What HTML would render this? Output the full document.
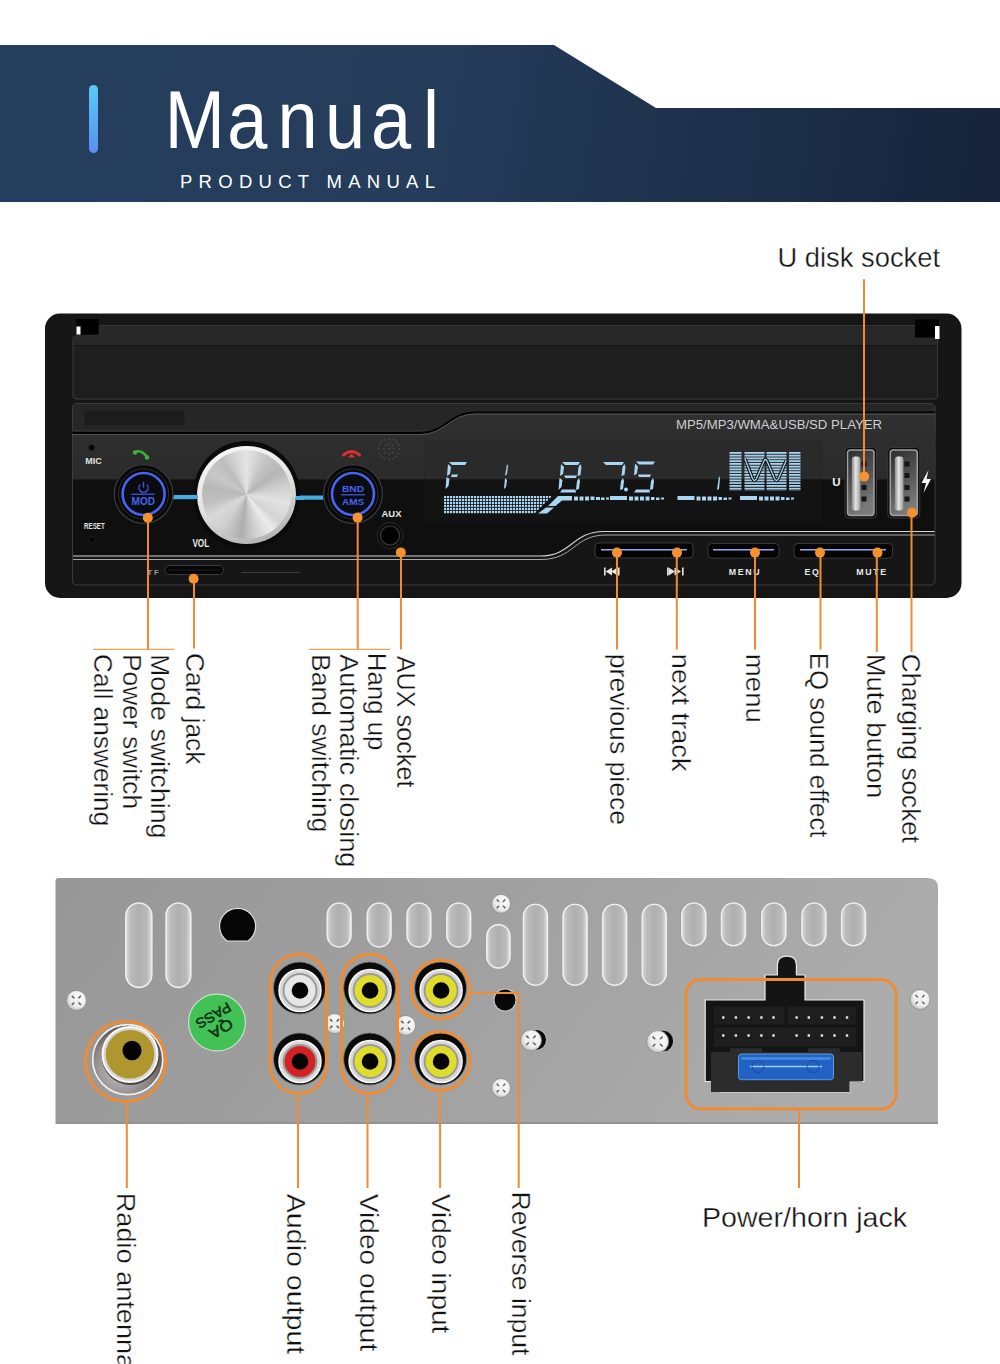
<!DOCTYPE html>
<html><head><meta charset="utf-8">
<style>
html,body{margin:0;padding:0;background:#fff;width:1000px;height:1364px;overflow:hidden;position:relative}
svg{display:block}
text{font-family:"Liberation Sans",sans-serif}
</style></head>
<body>
<svg width="1000" height="1364" viewBox="0 0 1000 1364">
<defs>
  <linearGradient id="hdr" gradientUnits="userSpaceOnUse" x1="0" y1="45" x2="1000" y2="202">
    <stop offset="0" stop-color="#263e5d"/>
    <stop offset="0.42" stop-color="#253c5b"/>
    <stop offset="0.7" stop-color="#1e314c"/>
    <stop offset="1" stop-color="#16233a"/>
  </linearGradient>
  <linearGradient id="bar" x1="0" y1="0" x2="0" y2="1">
    <stop offset="0" stop-color="#5ccaf9"/>
    <stop offset="1" stop-color="#5a8ef0"/>
  </linearGradient>
</defs>
<rect width="1000" height="1364" fill="#fff"/>

<!-- HEADER -->
<polygon points="0,45 554,45 656,108 1000,108 1000,202 0,202" fill="url(#hdr)"/>
<rect x="89" y="85" width="9" height="68" rx="4.5" fill="url(#bar)"/>

<g transform="translate(0,148.3) scale(0.88,1)" font-size="82" fill="#fff" stroke="none">
<text x="187.1" y="0">M</text><text x="258.3" y="0">a</text><text x="315.2" y="0">n</text><text x="369.2" y="0">u</text><text x="421.6" y="0">a</text><text x="480.6" y="0">l</text>
</g>
<text x="180" y="187.5" font-size="18.5" fill="#fff" textLength="255" lengthAdjust="spacing">PRODUCT MANUAL</text>

<!-- FRONT PANEL -->
<g id="front">
<rect x="45" y="313.5" width="916.5" height="284.5" rx="15" fill="#161616"/>
<!-- top flap -->
<path d="M73,345 L73,338 Q73,336 76,336 L92,336 Q95,336 96,332 L97,328 Q98,325.5 102,325.5 L934,325.5 Q937.5,325.5 937.5,329 L937.5,396 Q937.5,399 934,399 L76,399 Q73,399 73,396 Z" fill="#1e1e1e" stroke="#3a3a3a" stroke-width="1"/>
<path d="M74,338 Q74,337 76,337 L92,337 Q95,337 96,333 L97,329 Q98,326.5 102,326.5 L934,326.5 Q936.5,326.5 936.5,329 L936.5,345 L74,345 Z" fill="#282828"/>
<line x1="74" y1="345.5" x2="936.5" y2="345.5" stroke="#161616" stroke-width="1"/>
<rect x="76.5" y="319" width="22" height="15.5" fill="#000"/>
<rect x="76.5" y="326.5" width="4" height="8" fill="#fff"/>
<rect x="915" y="319.5" width="24" height="18" fill="#000"/>
<rect x="935" y="326" width="4.5" height="13" fill="#fff"/>
<!-- middle strip -->
<path d="M72.5,431 L72.5,408 Q72.5,403.5 77,403.5 L930,403.5 Q935,403.5 935,408 L935,431 Z" fill="#262626" stroke="#3c3c3c" stroke-width="1"/>
<rect x="84" y="410" width="101" height="16" rx="1.5" fill="#1c1c1c" stroke="#2c2c2c" stroke-width="0.8"/>
<!-- lower panel -->
<linearGradient id="pnlUp" x1="0" y1="0" x2="0" y2="1">
  <stop offset="0" stop-color="#303030"/><stop offset="1" stop-color="#232323"/>
</linearGradient>
<path d="M72.5,584 L72.5,433 L420,433 C445,433 450,412.5 475,412.5 L935,412.5 L935,584 Z" fill="url(#pnlUp)"/>
<rect x="72.5" y="479.5" width="862.5" height="104.5" fill="#0f0f0f"/>
<path d="M72.5,433 L420,433 C445,433 450,412.5 475,412.5 L935,412.5" fill="none" stroke="#000" stroke-width="2"/>
<path d="M72.5,434.5 L420,434.5 C445,434.5 450,414 475,414 L935,414" fill="none" stroke="#5a5a5a" stroke-width="0.9"/>
<text x="676" y="429" font-size="12.5" fill="#d0d0d0" textLength="206" lengthAdjust="spacingAndGlyphs">MP5/MP3/WMA&amp;USB/SD PLAYER</text>
<!-- display -->
<rect x="424.5" y="440.5" width="397" height="82.5" rx="3" fill="#1a1a1a"/>
<rect x="424.5" y="440.5" width="397" height="39" rx="3" fill="#2a2a2a"/>
<rect x="424.5" y="479.5" width="397" height="43.5" fill="#131313"/>
<!-- bottom strip -->
<path d="M72.5,584 L72.5,556 L540,556 C572,556 572,531.5 604,531.5 L935,531.5 L935,584 Q935,588 930,588 L77,588 Q72.5,588 72.5,584 Z" fill="#161616"/>
<path d="M72.5,556 L540,556 C572,556 572,531.5 604,531.5 L935,531.5" fill="none" stroke="#d4d4d4" stroke-width="1.1"/>
<path d="M72.5,559.5 L541,559.5 C574,559.5 574,535 606,535 L935,535" fill="none" stroke="#a8a8a8" stroke-width="1"/>
<path d="M72.5,433 L72.5,581 Q72.5,585 77,585 L930,585 Q935,585 935,581 L935,412.5" fill="none" stroke="#3c3c3c" stroke-width="1"/>
</g>

<!-- front components -->
<g id="frontcomp">
<!-- MIC / RESET -->
<circle cx="91.6" cy="447.5" r="3.2" fill="#060606" stroke="#333" stroke-width="0.6"/>
<text x="93.5" y="463.5" font-size="9" font-weight="bold" fill="#e2e2e2" text-anchor="middle">MIC</text>
<text x="94.4" y="528.8" font-size="8.5" font-weight="bold" fill="#e2e2e2" text-anchor="middle" textLength="20.8" lengthAdjust="spacingAndGlyphs">RESET</text>
<circle cx="92" cy="539.5" r="3.2" fill="#050505" stroke="#2a2a2a" stroke-width="0.6"/>
<text x="200.8" y="547.2" font-size="11.5" font-weight="bold" fill="#ececec" text-anchor="middle" textLength="16.8" lengthAdjust="spacingAndGlyphs">VOL</text>
<!-- blue light lines -->
<rect x="170" y="495" width="30" height="4.2" fill="#45aee0"/>
<rect x="294" y="495.5" width="31" height="4.2" fill="#45aee0"/>
<!-- MOD button -->
<circle cx="143.6" cy="494" r="30" fill="#0a0a0a"/>
<circle cx="143.6" cy="494" r="29.3" fill="none" stroke="#3c3c3c" stroke-width="1.2"/>
<circle cx="143.6" cy="494" r="25" fill="#050505" stroke="#2e2e2e" stroke-width="1"/>
<circle cx="143.6" cy="494" r="21" fill="#0b0b12" stroke="#4466f0" stroke-width="2.6"/>
<path d="M140.2,484.6 A4.6,4.6 0 1 0 146.8,484.6" fill="none" stroke="#3d5fe8" stroke-width="1.3"/>
<line x1="143.5" y1="481.8" x2="143.5" y2="487.5" stroke="#3d5fe8" stroke-width="1.3"/>
<line x1="131.3" y1="494.2" x2="154.8" y2="494.2" stroke="#3d5fe8" stroke-width="1.2"/>
<text x="143.3" y="504.6" font-size="10" font-weight="bold" fill="#4266f0" text-anchor="middle" textLength="23.5" lengthAdjust="spacingAndGlyphs">MOD</text>
<!-- green phone -->
<path d="M134.5,452.5 Q141,448.5 147.5,457.5" fill="none" stroke="#3cb43c" stroke-width="2.6" stroke-linecap="round"/>
<circle cx="135" cy="452.5" r="2.2" fill="#3cb43c"/><circle cx="147" cy="457.5" r="2.2" fill="#3cb43c"/>
<!-- BND button -->
<circle cx="353" cy="494" r="30" fill="#0a0a0a"/>
<circle cx="353" cy="494" r="29.3" fill="none" stroke="#3c3c3c" stroke-width="1.2"/>
<circle cx="353" cy="494" r="25" fill="#050505" stroke="#2e2e2e" stroke-width="1"/>
<circle cx="353" cy="494" r="21" fill="#0b0b12" stroke="#4466f0" stroke-width="2.6"/>
<text x="353" y="492" font-size="9.5" font-weight="bold" fill="#4266f0" text-anchor="middle" textLength="22" lengthAdjust="spacingAndGlyphs">BND</text>
<line x1="341" y1="494.8" x2="365" y2="494.8" stroke="#3d5fe8" stroke-width="1.2"/>
<text x="353" y="505" font-size="9.5" font-weight="bold" fill="#4266f0" text-anchor="middle" textLength="22" lengthAdjust="spacingAndGlyphs">AMS</text>
<!-- red phone -->
<path d="M343.5,455 Q351.5,448 359.5,455" fill="none" stroke="#d93030" stroke-width="3" stroke-linecap="round"/>
<path d="M348,457.5 L351.5,453.5 L355,457.5 Z" fill="#d93030"/>
<!-- speaker grid -->
<g fill="#4a4a4a">
<circle cx="389" cy="449" r="0.9"/>
<circle cx="389" cy="444" r="0.9"/><circle cx="389" cy="454" r="0.9"/><circle cx="384" cy="449" r="0.9"/><circle cx="394" cy="449" r="0.9"/>
<circle cx="385.5" cy="445.5" r="0.9"/><circle cx="392.5" cy="445.5" r="0.9"/><circle cx="385.5" cy="452.5" r="0.9"/><circle cx="392.5" cy="452.5" r="0.9"/>
<circle cx="389" cy="438.5" r="0.9"/><circle cx="389" cy="459.5" r="0.9"/><circle cx="378.5" cy="449" r="0.9"/><circle cx="399.5" cy="449" r="0.9"/>
<circle cx="381.5" cy="441.5" r="0.9"/><circle cx="396.5" cy="441.5" r="0.9"/><circle cx="381.5" cy="456.5" r="0.9"/><circle cx="396.5" cy="456.5" r="0.9"/>
<circle cx="384.5" cy="439.5" r="0.9"/><circle cx="393.5" cy="439.5" r="0.9"/><circle cx="384.5" cy="458.5" r="0.9"/><circle cx="393.5" cy="458.5" r="0.9"/>
<circle cx="379.5" cy="444.5" r="0.9"/><circle cx="398.5" cy="444.5" r="0.9"/><circle cx="379.5" cy="453.5" r="0.9"/><circle cx="398.5" cy="453.5" r="0.9"/>
</g>
<!-- AUX -->
<text x="391.5" y="516.5" font-size="9.5" font-weight="bold" fill="#e6e6e6" text-anchor="middle">AUX</text>
<circle cx="390" cy="535.5" r="13" fill="#0c0c0c" stroke="#2a2a2a" stroke-width="1"/>
<circle cx="390" cy="535.5" r="9.5" fill="#020202" stroke="#3a3a3a" stroke-width="1.2"/>
<!-- TF slot -->
<text x="153" y="575" font-size="7.5" font-weight="bold" fill="#9a9a9a" text-anchor="middle">T F</text>
<rect x="165" y="565.5" width="58.5" height="9" rx="4.5" fill="#050505" stroke="#3a3a3a" stroke-width="1"/>
<line x1="168" y1="570" x2="220" y2="570" stroke="#1e1e1e" stroke-width="1"/>
<path d="M241.5,572.5 L299,572.5 L300,571" fill="none" stroke="#3e3e3e" stroke-width="1.2"/>
<!-- display content -->
<g fill="#a9d6f2">
<!-- F -->
<path d="M449,462 L467,462 L465,465 L452,465 Z"/>
<path d="M448,464 L451,467 L450,474 L447,476 Z"/>
<path d="M452,474.5 L458,474.5 L457,477 L451,477 Z"/>
<path d="M446.5,477 L449.5,479 L448.5,486 L445.5,489 Z"/>
<!-- 1 -->
<path d="M507,464 L508,466 L507,474 L505,476 Z"/>
<path d="M505,478 L507,480 L506,487 L504,489 Z"/>
<!-- 8 -->
<path d="M562,462 L580,462 L578,465 L565,465 Z"/>
<path d="M561,464 L564,467 L563,474 L560,476 Z"/>
<path d="M580.5,464 L581.5,467 L580.5,475 L577.5,476 L578.5,467 Z"/>
<path d="M564,475.5 L577,475.5 L575.5,478 L565.5,478 Z"/>
<path d="M559.5,478 L562.5,480 L561.5,487 L558.5,490 Z"/>
<path d="M579,478 L580,481 L579,489 L576,490 L577,481 Z"/>
<path d="M562,489.5 L575.5,489.5 L576,492.5 L560,492.5 Z"/>
<!-- 7 -->
<path d="M603,462 L624,462 L622,465 L606,465 Z"/>
<path d="M624.5,464 L625.5,467 L624.5,475 L621.5,476 L622.5,467 Z"/>
<path d="M623,478 L624,481 L623,489 L620,490 L621,481 Z"/>
<circle cx="626" cy="489.5" r="2"/>
<!-- 5 -->
<path d="M636,461.5 L655,461.5 L653,464.5 L639,464.5 Z"/>
<path d="M635,463.5 L638,466.5 L637,473.5 L634,475.5 Z"/>
<path d="M638,474.5 L651,474.5 L650,477 L639,477 Z"/>
<path d="M653,478 L654,481 L653,489 L650,490 L651,481 Z"/>
<path d="M636,489.5 L649.5,489.5 L650,492.5 L634,492.5 Z"/>
<path d="M719,476 L720,478 L719,489 L717,490 Z"/>
</g>
<!-- grid block -->
<pattern id="grid" x="444" y="496" width="3" height="3" patternUnits="userSpaceOnUse">
  <rect width="2.2" height="2.2" fill="#a9d6f2"/>
</pattern>
<path d="M444,496 L552,496 L534,514 L444,514 Z" fill="url(#grid)"/>
<g fill="#a9d6f2">
<path d="M558,496 L572,496 L572,500.5 L562,500.5 L555.5,506 L548,506 Z"/>
<path d="M546,507.5 L554,507.5 L547,513.5 L538,513.5 Z"/>
<rect x="574" y="496.5" width="4" height="4"/><rect x="579.5" y="496.5" width="4" height="4"/><rect x="585" y="496.5" width="4" height="4"/><rect x="590.5" y="496.5" width="4" height="3.5"/><rect x="596" y="497" width="4" height="3"/><rect x="601" y="497.5" width="3.5" height="2.5"/><rect x="606" y="497.5" width="3" height="2"/>
<rect x="610" y="496" width="17" height="4"/>
<rect x="629" y="496.5" width="4" height="4"/><rect x="634.5" y="496.5" width="4" height="4"/><rect x="640" y="496.5" width="4" height="4"/><rect x="645.5" y="496.5" width="4" height="4"/><rect x="651" y="497" width="3.5" height="3"/><rect x="656" y="497.5" width="3.5" height="2.5"/><rect x="661" y="497.5" width="3" height="2"/>
<rect x="677.5" y="496" width="17" height="4"/>
<rect x="696.5" y="496.5" width="4" height="4"/><rect x="702" y="496.5" width="4" height="4"/><rect x="707.5" y="496.5" width="4" height="4"/><rect x="713" y="496.5" width="4" height="4"/><rect x="718.5" y="497" width="3.5" height="3"/><rect x="723.5" y="497.5" width="3.5" height="2.5"/><rect x="728.5" y="497.5" width="3" height="2"/>
<rect x="740" y="496" width="17" height="4"/>
<rect x="759" y="496.5" width="4" height="4"/><rect x="764.5" y="496.5" width="4" height="4"/><rect x="770" y="496.5" width="4" height="4"/><rect x="775.5" y="496.5" width="4" height="4"/><rect x="781" y="497" width="3.5" height="3"/><rect x="786" y="497.5" width="3.5" height="2.5"/><rect x="791" y="497.5" width="3" height="2"/>
</g>
<!-- EQ block -->
<pattern id="stripes" x="0" y="452" width="10" height="2.75" patternUnits="userSpaceOnUse">
  <rect width="10" height="1.75" fill="#a9d6f2"/>
</pattern>
<rect x="729.5" y="452" width="12" height="38.5" fill="url(#stripes)"/>
<rect x="744.5" y="452" width="20" height="38.5" fill="url(#stripes)"/>
<rect x="766.5" y="452" width="20" height="38.5" fill="url(#stripes)"/>
<rect x="789" y="452" width="11.5" height="38.5" fill="url(#stripes)"/>
<path d="M745,459 L752.5,478.5 Q754.5,482.5 756.5,478.5 L764,461 Q765.5,458 767,461 L774.5,478.5 Q776.5,482.5 778.5,478.5 L786,461" fill="none" stroke="#161616" stroke-width="3.6"/>
<path d="M745,459 L752.5,478.5 Q754.5,482.5 756.5,478.5 L764,461 Q765.5,458 767,461 L774.5,478.5 Q776.5,482.5 778.5,478.5 L786,461" fill="none" stroke="#a9d6f2" stroke-width="1.3"/>
<!-- U / lightning -->
<text x="836.3" y="485.5" font-size="11.5" font-weight="bold" fill="#f0f0f0" text-anchor="middle">U</text>
<path d="M928.5,470 L921.5,483 L926,483 L923.5,493 L931,479 L926.5,479 Z" fill="#f4f4f4"/>
<!-- USB ports -->
<linearGradient id="usbIn" x1="0" y1="0" x2="0.3" y2="1">
  <stop offset="0" stop-color="#2e2e2e"/><stop offset="0.5" stop-color="#505050"/><stop offset="1" stop-color="#7a7a7a"/>
</linearGradient>
<linearGradient id="tongue" x1="0" y1="0" x2="1" y2="0">
  <stop offset="0" stop-color="#8a8a8a"/><stop offset="0.45" stop-color="#e6e6e6"/><stop offset="1" stop-color="#9a9a9a"/>
</linearGradient>
<g>
<rect x="845" y="447.5" width="31.5" height="70.5" rx="4" fill="#0a0a0a" stroke="#383838" stroke-width="1"/>
<rect x="847.5" y="450" width="26.5" height="65.5" rx="3" fill="url(#usbIn)" stroke="#a0a0a0" stroke-width="1.5"/>
<rect x="851.8" y="456.5" width="8.6" height="54" rx="3" fill="url(#tongue)"/>
<rect x="861.5" y="461.5" width="5" height="5" fill="#151515"/><rect x="861.5" y="473" width="5" height="5" fill="#151515"/><rect x="861.5" y="485" width="5" height="5" fill="#151515"/><rect x="861.5" y="496.5" width="5" height="5" fill="#151515"/>
</g>
<g>
<rect x="887.8" y="447.5" width="32" height="70.5" rx="4" fill="#0a0a0a" stroke="#383838" stroke-width="1"/>
<rect x="890.3" y="450" width="27" height="65.5" rx="3" fill="url(#usbIn)" stroke="#a0a0a0" stroke-width="1.5"/>
<rect x="894.8" y="456.5" width="8.6" height="54" rx="3" fill="url(#tongue)"/>
<rect x="904.5" y="461.5" width="5" height="5" fill="#151515"/><rect x="904.5" y="473" width="5" height="5" fill="#151515"/><rect x="904.5" y="485" width="5" height="5" fill="#151515"/><rect x="904.5" y="496.5" width="5" height="5" fill="#151515"/>
</g>
<!-- bottom buttons -->
<g>
<rect x="595" y="543" width="98" height="15" rx="4" fill="#040404" stroke="#3a3a3a" stroke-width="1"/>
<line x1="601" y1="549.8" x2="687" y2="549.8" stroke="#9aa6ea" stroke-width="1.6"/>
<rect x="708" y="543.5" width="71" height="14.7" rx="4" fill="#040404" stroke="#3a3a3a" stroke-width="1"/>
<line x1="713" y1="549.8" x2="774" y2="549.8" stroke="#9aa6ea" stroke-width="1.6"/>
<rect x="794" y="543.5" width="98.5" height="14.7" rx="4" fill="#040404" stroke="#3a3a3a" stroke-width="1"/>
<line x1="800" y1="549.8" x2="886" y2="549.8" stroke="#9aa6ea" stroke-width="1.6"/>
</g>
<g fill="#e6e6e6">
<rect x="604" y="567.5" width="1.6" height="8"/>
<path d="M605.6,571.5 L612,567.5 L612,575.5 Z"/><path d="M611,571.5 L617.5,567.5 L617.5,575.5 Z"/>
<rect x="618" y="567.5" width="1.6" height="8"/>
<rect x="667" y="567.5" width="1.6" height="8"/>
<path d="M675,571.5 L668.6,567.5 L668.6,575.5 Z"/><path d="M681,571.5 L674.5,567.5 L674.5,575.5 Z"/>
<rect x="682" y="567.5" width="1.6" height="8"/>
</g>
<text x="745" y="575" font-size="8.8" font-weight="bold" fill="#e6e6e6" text-anchor="middle" letter-spacing="1.6">MENU</text>
<text x="812.5" y="575" font-size="8.8" font-weight="bold" fill="#e6e6e6" text-anchor="middle" letter-spacing="1.6">EQ</text>
<text x="872" y="575" font-size="8.8" font-weight="bold" fill="#e6e6e6" text-anchor="middle" letter-spacing="1.6">MUTE</text>
</g>

<!-- CALLOUTS FRONT -->
<g id="callouts" stroke="#ef8c33" stroke-width="2" fill="none">
<line x1="148" y1="518" x2="148" y2="649.5"/>
<line x1="194" y1="579" x2="194" y2="648.5"/>
<line x1="357.7" y1="518" x2="357.7" y2="649.5"/>
<line x1="401" y1="552" x2="401" y2="649.5"/>
<line x1="617" y1="552.6" x2="617" y2="649.5"/>
<line x1="676.8" y1="552.6" x2="676.8" y2="649.5"/>
<line x1="755" y1="552.6" x2="755" y2="649.5"/>
<line x1="820.5" y1="552.6" x2="820.5" y2="649.5"/>
<line x1="876.8" y1="552.6" x2="876.8" y2="652"/>
<line x1="911.5" y1="512.8" x2="911.5" y2="652"/>
<line x1="864" y1="279.3" x2="864" y2="476.6"/>
<line x1="93" y1="649.3" x2="174" y2="649.3" stroke-width="1.3" stroke="#f0a050"/>
<line x1="309" y1="649.3" x2="390" y2="649.3" stroke-width="1.3" stroke="#f0a050"/>
</g>
<g fill="#f5912f">
<circle cx="147.8" cy="517.7" r="5"/>
<circle cx="193.6" cy="578.8" r="5"/>
<circle cx="357.6" cy="517.6" r="5"/>
<circle cx="400.8" cy="552.4" r="5"/>
<circle cx="617" cy="552.6" r="5"/>
<circle cx="677" cy="552.6" r="5"/>
<circle cx="755" cy="552.6" r="5"/>
<circle cx="820" cy="552.6" r="5"/>
<circle cx="877.5" cy="552.6" r="5"/>
<circle cx="912" cy="512.8" r="5"/>
<circle cx="864.2" cy="476.6" r="5"/>
</g>
<!-- LABELS -->
<g id="labels" font-size="26" fill="#111" stroke="#fff" stroke-width="0.35">
<text transform="translate(186.0,653.0) rotate(90)" textLength="111.5" lengthAdjust="spacingAndGlyphs">Card jack</text>
<text transform="translate(151.0,654.0) rotate(90)" textLength="184.5" lengthAdjust="spacingAndGlyphs">Mode switching</text>
<text transform="translate(122.5,654.0) rotate(90)" textLength="155.1" lengthAdjust="spacingAndGlyphs">Power switch</text>
<text transform="translate(93.9,654.0) rotate(90)" textLength="172.3" lengthAdjust="spacingAndGlyphs">Call answering</text>
<text transform="translate(396.7,655.7) rotate(90)" textLength="131.8" lengthAdjust="spacingAndGlyphs">AUX socket</text>
<text transform="translate(368.0,652.7) rotate(90)" textLength="97.8" lengthAdjust="spacingAndGlyphs">Hang up</text>
<text transform="translate(340.3,654.0) rotate(90)" textLength="213.5" lengthAdjust="spacingAndGlyphs">Automatic closing</text>
<text transform="translate(311.6,654.0) rotate(90)" textLength="178.5" lengthAdjust="spacingAndGlyphs">Band switching</text>
<text transform="translate(610.0,653.8) rotate(90)" textLength="171.2" lengthAdjust="spacingAndGlyphs">previous piece</text>
<text transform="translate(672.0,653.8) rotate(90)" textLength="117.7" lengthAdjust="spacingAndGlyphs">next track</text>
<text transform="translate(746.3,653.8) rotate(90)" textLength="69.2" lengthAdjust="spacingAndGlyphs">menu</text>
<text transform="translate(810.0,652.8) rotate(90)" textLength="184.7" lengthAdjust="spacingAndGlyphs">EQ sound effect</text>
<text transform="translate(867.2,653.8) rotate(90)" textLength="144.5" lengthAdjust="spacingAndGlyphs">Mute button</text>
<text transform="translate(902.4,653.8) rotate(90)" textLength="189.3" lengthAdjust="spacingAndGlyphs">Charging socket</text>
<text transform="translate(116.5,1192.7) rotate(90)" textLength="176.5" lengthAdjust="spacingAndGlyphs">Radio antenna</text>
<text transform="translate(287.0,1193.8) rotate(90)" textLength="160.5" lengthAdjust="spacingAndGlyphs">Audio output</text>
<text transform="translate(359.8,1193.8) rotate(90)" textLength="157.5" lengthAdjust="spacingAndGlyphs">Video output</text>
<text transform="translate(432.4,1193.8) rotate(90)" textLength="139.5" lengthAdjust="spacingAndGlyphs">Video input</text>
<text transform="translate(511.6,1191.6) rotate(90)" textLength="163.9" lengthAdjust="spacingAndGlyphs">Reverse input</text>
<text x="777.5" y="267" font-size="27.5" textLength="162.5" lengthAdjust="spacingAndGlyphs">U disk socket</text>
<text x="702" y="1226.5" font-size="27.5" textLength="205" lengthAdjust="spacingAndGlyphs">Power/horn jack</text>
</g>
<!-- REAR PANEL -->
<g id="rear">
<linearGradient id="metal" x1="0" y1="0" x2="1" y2="0.2">
  <stop offset="0" stop-color="#979797"/><stop offset="0.5" stop-color="#a0a0a0"/><stop offset="1" stop-color="#acacac"/>
</linearGradient>
<linearGradient id="slotg" x1="0" y1="0" x2="1" y2="0">
  <stop offset="0" stop-color="#dcdcdc"/><stop offset="0.18" stop-color="#bcbcbc"/><stop offset="0.5" stop-color="#afafaf"/><stop offset="0.82" stop-color="#bababa"/><stop offset="1" stop-color="#e2e2e2"/>
</linearGradient>
<path d="M55.5,881 Q55.5,878 58.5,878 L928,878 Q938,878 938,888 L938,1124 L55.5,1124 Z" fill="url(#metal)"/>
<path d="M56,1123 L938,1123" stroke="#939393" stroke-width="2"/>
<rect x="124.8" y="902.0" width="27.0" height="85.9" rx="13.5" fill="#8a8a8a"/><rect x="125.8" y="903.0" width="26.0" height="84.4" rx="13.0" fill="url(#slotg)" stroke="#eeeeee" stroke-width="1.6"/>
<rect x="165.0" y="902.0" width="25.8" height="85.9" rx="12.9" fill="#8a8a8a"/><rect x="166.0" y="903.0" width="24.8" height="84.4" rx="12.4" fill="url(#slotg)" stroke="#eeeeee" stroke-width="1.6"/>
<rect x="326.2" y="902.0" width="24.8" height="45.5" rx="12.4" fill="#8a8a8a"/><rect x="327.2" y="903.0" width="23.8" height="44.0" rx="11.9" fill="url(#slotg)" stroke="#eeeeee" stroke-width="1.6"/>
<rect x="366.2" y="902.0" width="24.8" height="45.5" rx="12.4" fill="#8a8a8a"/><rect x="367.2" y="903.0" width="23.8" height="44.0" rx="11.9" fill="url(#slotg)" stroke="#eeeeee" stroke-width="1.6"/>
<rect x="406.0" y="902.0" width="24.8" height="45.5" rx="12.4" fill="#8a8a8a"/><rect x="407.0" y="903.0" width="23.8" height="44.0" rx="11.9" fill="url(#slotg)" stroke="#eeeeee" stroke-width="1.6"/>
<rect x="445.8" y="902.0" width="24.8" height="45.5" rx="12.4" fill="#8a8a8a"/><rect x="446.8" y="903.0" width="23.8" height="44.0" rx="11.9" fill="url(#slotg)" stroke="#eeeeee" stroke-width="1.6"/>
<rect x="485.8" y="923.6" width="24.2" height="44.9" rx="12.1" fill="#8a8a8a"/><rect x="486.8" y="924.6" width="23.2" height="43.4" rx="11.6" fill="url(#slotg)" stroke="#eeeeee" stroke-width="1.6"/>
<rect x="522.4" y="903.3" width="25.0" height="82.5" rx="12.5" fill="#8a8a8a"/><rect x="523.4" y="904.3" width="24.0" height="81.0" rx="12.0" fill="url(#slotg)" stroke="#eeeeee" stroke-width="1.6"/>
<rect x="562.0" y="903.3" width="25.0" height="82.5" rx="12.5" fill="#8a8a8a"/><rect x="563.0" y="904.3" width="24.0" height="81.0" rx="12.0" fill="url(#slotg)" stroke="#eeeeee" stroke-width="1.6"/>
<rect x="601.6" y="903.3" width="25.0" height="82.5" rx="12.5" fill="#8a8a8a"/><rect x="602.6" y="904.3" width="24.0" height="81.0" rx="12.0" fill="url(#slotg)" stroke="#eeeeee" stroke-width="1.6"/>
<rect x="641.2" y="903.3" width="25.0" height="82.5" rx="12.5" fill="#8a8a8a"/><rect x="642.2" y="904.3" width="24.0" height="81.0" rx="12.0" fill="url(#slotg)" stroke="#eeeeee" stroke-width="1.6"/>
<rect x="680.8" y="902.0" width="25.0" height="44.2" rx="12.5" fill="#8a8a8a"/><rect x="681.8" y="903.0" width="24.0" height="42.7" rx="12.0" fill="url(#slotg)" stroke="#eeeeee" stroke-width="1.6"/>
<rect x="720.4" y="902.0" width="25.0" height="44.2" rx="12.5" fill="#8a8a8a"/><rect x="721.4" y="903.0" width="24.0" height="42.7" rx="12.0" fill="url(#slotg)" stroke="#eeeeee" stroke-width="1.6"/>
<rect x="760.8" y="902.0" width="25.0" height="44.2" rx="12.5" fill="#8a8a8a"/><rect x="761.8" y="903.0" width="24.0" height="42.7" rx="12.0" fill="url(#slotg)" stroke="#eeeeee" stroke-width="1.6"/>
<rect x="800.9" y="902.0" width="25.0" height="44.2" rx="12.5" fill="#8a8a8a"/><rect x="801.9" y="903.0" width="24.0" height="42.7" rx="12.0" fill="url(#slotg)" stroke="#eeeeee" stroke-width="1.6"/>
<rect x="840.5" y="902.0" width="25.0" height="44.2" rx="12.5" fill="#8a8a8a"/><rect x="841.5" y="903.0" width="24.0" height="42.7" rx="12.0" fill="url(#slotg)" stroke="#eeeeee" stroke-width="1.6"/>
<path d="M227.2,941 A18,18 0 1 1 248,941 Z" fill="#060606" stroke="#e0e0e0" stroke-width="1.2"/>
<circle cx="505" cy="1000" r="11.5" fill="#d0d0d0"/>
<circle cx="505" cy="1000" r="10.5" fill="#080808"/>
<radialGradient id="screwg" cx="0.6" cy="0.4" r="0.7">
  <stop offset="0" stop-color="#ffffff"/><stop offset="0.6" stop-color="#ececec"/><stop offset="1" stop-color="#b4b4b4"/>
</radialGradient>
<circle cx="76.4" cy="1000.4" r="10" fill="url(#screwg)" stroke="#8a8a8a" stroke-width="0.8"/><path d="M71.9,995.9 L80.9,1004.9 M80.9,995.9 L71.9,1004.9" stroke="#666" stroke-width="1.6"/><circle cx="76.4" cy="1000.4" r="3.0" fill="#eee"/>
<circle cx="334.5" cy="1023.6" r="10" fill="url(#screwg)" stroke="#8a8a8a" stroke-width="0.8"/><path d="M330.0,1019.1 L339.0,1028.1 M339.0,1019.1 L330.0,1028.1" stroke="#666" stroke-width="1.6"/><circle cx="334.5" cy="1023.6" r="3.0" fill="#eee"/>
<circle cx="405.6" cy="1025.4" r="10" fill="url(#screwg)" stroke="#8a8a8a" stroke-width="0.8"/><path d="M401.1,1020.9 L410.1,1029.9 M410.1,1020.9 L401.1,1029.9" stroke="#666" stroke-width="1.6"/><circle cx="405.6" cy="1025.4" r="3.0" fill="#eee"/>
<circle cx="501" cy="903.8" r="9.5" fill="url(#screwg)" stroke="#8a8a8a" stroke-width="0.8"/><path d="M496.7,899.5 L505.3,908.1 M505.3,899.5 L496.7,908.1" stroke="#666" stroke-width="1.6"/><circle cx="501.0" cy="903.8" r="2.9" fill="#eee"/>
<circle cx="536" cy="1039.8" r="10.5" fill="#0a0a0a" stroke="#d0d0d0" stroke-width="0.8"/><circle cx="531" cy="1040.3" r="10.5" fill="url(#screwg)" stroke="#8a8a8a" stroke-width="0.8"/><path d="M526.3,1035.6 L535.7,1045.0 M535.7,1035.6 L526.3,1045.0" stroke="#666" stroke-width="1.6"/><circle cx="531.0" cy="1040.3" r="3.1" fill="#eee"/>
<circle cx="501" cy="1088" r="9.5" fill="url(#screwg)" stroke="#8a8a8a" stroke-width="0.8"/><path d="M496.7,1083.7 L505.3,1092.3 M505.3,1083.7 L496.7,1092.3" stroke="#666" stroke-width="1.6"/><circle cx="501.0" cy="1088.0" r="2.9" fill="#eee"/>
<circle cx="662.6" cy="1041.1" r="11" fill="#0a0a0a" stroke="#d0d0d0" stroke-width="0.8"/><circle cx="657.6" cy="1041.6" r="11" fill="url(#screwg)" stroke="#8a8a8a" stroke-width="0.8"/><path d="M652.6,1036.6 L662.6,1046.5 M662.6,1036.6 L652.6,1046.5" stroke="#666" stroke-width="1.6"/><circle cx="657.6" cy="1041.6" r="3.3" fill="#eee"/>
<circle cx="920" cy="999.5" r="10" fill="url(#screwg)" stroke="#8a8a8a" stroke-width="0.8"/><path d="M915.5,995.0 L924.5,1004.0 M924.5,995.0 L915.5,1004.0" stroke="#666" stroke-width="1.6"/><circle cx="920.0" cy="999.5" r="3.0" fill="#eee"/>
<circle cx="217" cy="1022.5" r="28.4" fill="#42c256" stroke="#c8e0c8" stroke-width="1.2"/>
<g transform="translate(217.5,1022.5) rotate(150)" fill="#0e2e14" text-anchor="middle">
<text y="-2" font-size="15" textLength="25" lengthAdjust="spacingAndGlyphs" stroke="#0e2e14" stroke-width="0.5">QA</text>
<text y="13" font-size="14" textLength="38" lengthAdjust="spacingAndGlyphs" stroke="#0e2e14" stroke-width="0.5">PASS</text>
</g>
<radialGradient id="antg" cx="0.4" cy="0.65" r="0.6">
  <stop offset="0" stop-color="#c8c8c8"/><stop offset="0.7" stop-color="#8e8686"/><stop offset="1" stop-color="#5e5656"/>
</radialGradient>
<circle cx="127.7" cy="1059.6" r="35" fill="url(#antg)" stroke="#f2f2f2" stroke-width="1.6"/>
<circle cx="130.5" cy="1056" r="29" fill="#4a4444"/>
<circle cx="130" cy="1054.5" r="27.5" fill="#d6d6d6" stroke="#f8f8f8" stroke-width="2"/>
<circle cx="130" cy="1054.2" r="24.3" fill="#b0962e"/>
<ellipse cx="132" cy="1050.5" rx="9.5" ry="9.8" fill="#050505"/>
<circle cx="299.5" cy="988.0" r="26" fill="#0a0a0a" stroke="#7a7a7a" stroke-width="0.8"/><circle cx="300.0" cy="990.5" r="21" fill="#d8d8d8" stroke="#f8f8f8" stroke-width="1.5"/><circle cx="300.0" cy="990.5" r="17.5" fill="#9a9a9a"/><circle cx="300.0" cy="990.5" r="15.5" fill="#e6e6e6"/><circle cx="300.0" cy="990.5" r="8.3" fill="#050505"/>
<circle cx="299.5" cy="1059.0" r="26" fill="#0a0a0a" stroke="#7a7a7a" stroke-width="0.8"/><circle cx="300.0" cy="1061.5" r="21" fill="#d8d8d8" stroke="#f8f8f8" stroke-width="1.5"/><circle cx="300.0" cy="1061.5" r="17.5" fill="#9a9a9a"/><circle cx="300.0" cy="1061.5" r="15.5" fill="#d42222"/><circle cx="300.0" cy="1061.5" r="8.3" fill="#050505"/>
<circle cx="369.6" cy="988.0" r="26" fill="#0a0a0a" stroke="#7a7a7a" stroke-width="0.8"/><circle cx="370.1" cy="990.5" r="21" fill="#d8d8d8" stroke="#f8f8f8" stroke-width="1.5"/><circle cx="370.1" cy="990.5" r="17.5" fill="#9a9a9a"/><circle cx="370.1" cy="990.5" r="15.5" fill="#e0dc2c"/><circle cx="370.1" cy="990.5" r="8.3" fill="#050505"/>
<circle cx="369.6" cy="1059.0" r="26" fill="#0a0a0a" stroke="#7a7a7a" stroke-width="0.8"/><circle cx="370.1" cy="1061.5" r="21" fill="#d8d8d8" stroke="#f8f8f8" stroke-width="1.5"/><circle cx="370.1" cy="1061.5" r="17.5" fill="#9a9a9a"/><circle cx="370.1" cy="1061.5" r="15.5" fill="#e0dc2c"/><circle cx="370.1" cy="1061.5" r="8.3" fill="#050505"/>
<circle cx="440.6" cy="988.0" r="26" fill="#0a0a0a" stroke="#7a7a7a" stroke-width="0.8"/><circle cx="441.1" cy="990.5" r="21" fill="#d8d8d8" stroke="#f8f8f8" stroke-width="1.5"/><circle cx="441.1" cy="990.5" r="17.5" fill="#9a9a9a"/><circle cx="441.1" cy="990.5" r="15.5" fill="#e0dc2c"/><circle cx="441.1" cy="990.5" r="8.3" fill="#050505"/>
<circle cx="440.6" cy="1059.0" r="26" fill="#0a0a0a" stroke="#7a7a7a" stroke-width="0.8"/><circle cx="441.1" cy="1061.5" r="21" fill="#d8d8d8" stroke="#f8f8f8" stroke-width="1.5"/><circle cx="441.1" cy="1061.5" r="17.5" fill="#9a9a9a"/><circle cx="441.1" cy="1061.5" r="15.5" fill="#e0dc2c"/><circle cx="441.1" cy="1061.5" r="8.3" fill="#050505"/>
<g>
<path d="M765,1000 L765,975 L777.4,975 L777.4,965 Q777.4,956.2 786.9,956.2 Q796.4,956.2 796.4,965 L796.4,975 L805,975 L805,1000 L864,1000 L864,1081.5 L849.6,1081.5 L849.6,1092 L720.4,1092 L720.4,1081.5 L705.2,1081.5 L705.2,1000 Z" fill="#141414" stroke="#e8e8e8" stroke-width="1.2"/>
<rect x="714" y="1006.5" width="70.5" height="18" fill="#1e1e1e"/>
<rect x="787.5" y="1006.5" width="69" height="18" fill="#1e1e1e"/>
<rect x="714" y="1027.5" width="142.5" height="19" fill="#1e1e1e"/>
<path d="M711,1092 L711,1052 L730,1052 L730,1048.3 L762,1048.3 L762,1052 L808,1052 L808,1048.3 L840,1048.3 L840,1052 L862,1052 L862,1081.5 L849.6,1081.5 L849.6,1092 Z" fill="#2c2c2c"/>
<rect x="738.5" y="1054" width="95" height="25.7" rx="3" fill="#2262c4" stroke="#5a9ae8" stroke-width="1"/>
<rect x="741" y="1057" width="90" height="3" rx="1.5" fill="#6aaaf0" opacity="0.5"/>
<line x1="750" y1="1066.5" x2="822" y2="1066.5" stroke="#9fd0ff" stroke-width="1.5"/>
<circle cx="758" cy="1066.5" r="6" fill="none" stroke="#1a4aa0" stroke-width="1"/>
<circle cx="813" cy="1066.5" r="6" fill="none" stroke="#1a4aa0" stroke-width="1"/>
<rect x="722.0999999999999" y="1016.3" width="2.4" height="2.4" fill="#e8e8e8"/><rect x="734.6999999999999" y="1016.3" width="2.4" height="2.4" fill="#e8e8e8"/><rect x="747.4" y="1016.3" width="2.4" height="2.4" fill="#e8e8e8"/><rect x="760.1999999999999" y="1016.3" width="2.4" height="2.4" fill="#e8e8e8"/><rect x="772.3" y="1016.3" width="2.4" height="2.4" fill="#e8e8e8"/><rect x="795.4" y="1016.3" width="2.4" height="2.4" fill="#e8e8e8"/><rect x="807.5999999999999" y="1016.3" width="2.4" height="2.4" fill="#e8e8e8"/><rect x="820.6999999999999" y="1016.3" width="2.4" height="2.4" fill="#e8e8e8"/><rect x="833.3" y="1016.3" width="2.4" height="2.4" fill="#e8e8e8"/><rect x="845.8" y="1016.3" width="2.4" height="2.4" fill="#e8e8e8"/>
<rect x="722.0999999999999" y="1034.3" width="2.4" height="2.4" fill="#e8e8e8"/><rect x="734.6999999999999" y="1034.3" width="2.4" height="2.4" fill="#e8e8e8"/><rect x="747.4" y="1034.3" width="2.4" height="2.4" fill="#e8e8e8"/><rect x="760.1999999999999" y="1034.3" width="2.4" height="2.4" fill="#e8e8e8"/><rect x="772.3" y="1034.3" width="2.4" height="2.4" fill="#e8e8e8"/><rect x="795.4" y="1034.3" width="2.4" height="2.4" fill="#e8e8e8"/><rect x="807.5999999999999" y="1034.3" width="2.4" height="2.4" fill="#e8e8e8"/><rect x="820.6999999999999" y="1034.3" width="2.4" height="2.4" fill="#e8e8e8"/><rect x="833.3" y="1034.3" width="2.4" height="2.4" fill="#e8e8e8"/><rect x="845.8" y="1034.3" width="2.4" height="2.4" fill="#e8e8e8"/>
</g>
<g stroke="#ef8c33" stroke-width="3" fill="none">
<circle cx="125.6" cy="1061.5" r="40"/>
<rect x="270.5" y="954.3" width="56" height="139.2" rx="28"/>
<rect x="341.5" y="954.3" width="56" height="139.2" rx="28"/>
<circle cx="440.6" cy="989.5" r="29.2"/>
<circle cx="440.6" cy="1061" r="29.2"/>
<rect x="686" y="979.5" width="210" height="129.5" rx="15"/>
</g>
<g stroke="#ef8c33" stroke-width="2" fill="none">
<line x1="126.8" y1="1101.5" x2="126.8" y2="1188"/>
<line x1="298" y1="1093.5" x2="298" y2="1188"/>
<line x1="367.5" y1="1093.5" x2="367.5" y2="1188"/>
<line x1="440.1" y1="1090" x2="440.1" y2="1188"/>
<polyline points="469.8,993 518.7,993 518.7,1188"/>
<line x1="799" y1="1109" x2="799" y2="1188"/>
</g>
</g>

</svg>
<div style="position:absolute;left:192.8px;top:441.1px;width:107.6px;height:107.6px;border-radius:50%;background:radial-gradient(circle,#0a0a0a 80%,#1c1c1c 100%)"></div>
<div style="position:absolute;left:197.4px;top:445.7px;width:98.4px;height:98.4px;border-radius:50%;background:linear-gradient(160deg,#fafafa 0%,#e6e6e6 45%,#a8a8a8 100%)"></div>
<div style="position:absolute;left:202px;top:450.3px;width:89.2px;height:89.2px;border-radius:50%;background:conic-gradient(from 0deg,#e4e4e4 0%,#c4c4c4 8%,#b6b6b6 15%,#cfcfcf 22%,#e2e2e2 28%,#d4d4d4 36%,#ececec 40%,#c8c8c8 48%,#aeaeae 52%,#cfcfcf 60%,#d8d8d8 66%,#c0c0c0 72%,#b8b8b8 78%,#c8c8c8 84%,#bcbcbc 90%,#d8d8d8 96%,#e4e4e4 100%)"></div>
<div style="position:absolute;left:190px;top:495px;width:8px;height:4.2px;background:#45aee0"></div>
<div style="position:absolute;left:295.5px;top:495.5px;width:8px;height:4.2px;background:#45aee0"></div>
</body></html>
